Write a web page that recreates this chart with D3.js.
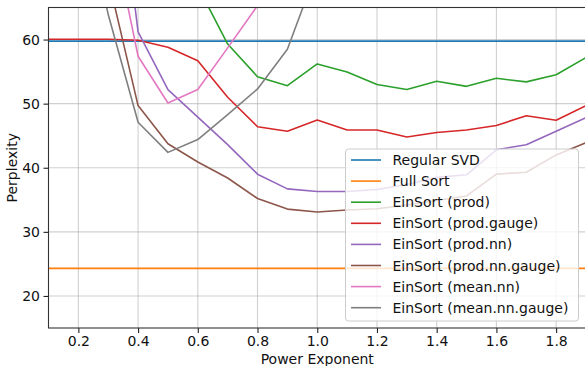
<!DOCTYPE html>
<html>
<head>
<meta charset="utf-8">
<script src="https://cdn.jsdelivr.net/npm/d3@7"></script>
<style>
  body { margin: 0; background: #fff; }
  text { font-family: "DejaVu Sans", sans-serif; }
</style>
</head>
<body>
<svg id="chart"></svg>
<script>
// power exponent values (x axis)
const exponents = [0.1, 0.2, 0.3, 0.4, 0.5, 0.6, 0.7, 0.8, 0.9, 1.0,
  1.1, 1.2, 1.3, 1.4, 1.5, 1.6, 1.7, 1.8, 1.9];

// constant baselines
const regularSvd = 59.75;
const fullSort = 24.3;

// EinSort variants, null = not measured / way off chart
const prod = [null, null, null, null, null, 68.3, 59.3, 54.2, 52.8, 56.2,
  54.95, 53.0, 52.2, 53.5, 52.7, 53.95, 53.4, 54.5, 57.2];
const prodGauge = [60.05, 60.05, 60.05, 59.9, 58.8, 56.7, 51.0, 46.4, 45.7, 47.45,
  45.9, 45.9, 44.8, 45.5, 45.9, 46.6, 48.1, 47.4, 49.7];
const prodNN = [null, null, 99, 61.2, 52.2, 47.9, 43.6, 39.0, 36.7, 36.3,
  36.3, 36.6, 37.4, 38.5, 38.9, 42.8, 43.6, 45.7, 47.8];
const prodNNGauge = [null, null, 69.5, 49.7, 43.75, 40.9, 38.4, 35.2, 33.55, 33.1,
  33.4, 33.6, 34.2, 34.9, 35.6, 39.0, 39.3, 42.0, 43.9];
const meanNN = [null, null, 80, 57.4, 50.1, 52.2, 58.7, 65.3, 75, null,
  null, null, null, null, null, null, null, null, null];
const meanNNGauge = [null, 85, 63.9, 47.1, 42.4, 44.4, 48.3, 52.3, 58.5, 71,
  null, null, null, null, null, null, null, null, null];

const xTicks = [0.2, 0.4, 0.6, 0.8, 1.0, 1.2, 1.4, 1.6, 1.8];
const yTicks = [20, 30, 40, 50, 60];

const series = [
  {name: 'Regular SVD', color: '#1f77b4', values: exponents.map(() => regularSvd)},
  {name: 'Full Sort', color: '#ff7f0e', values: exponents.map(() => fullSort)},
  {name: 'EinSort (prod)', color: '#2ca02c', values: prod},
  {name: 'EinSort (prod.gauge)', color: '#d62728', values: prodGauge},
  {name: 'EinSort (prod.nn)', color: '#9467bd', values: prodNN},
  {name: 'EinSort (prod.nn.gauge)', color: '#8c564b', values: prodNNGauge},
  {name: 'EinSort (mean.nn)', color: '#e377c2', values: meanNN},
  {name: 'EinSort (mean.nn.gauge)', color: '#7f7f7f', values: meanNNGauge}
];

const W = 585, H = 366;
const margin = {top: 7.5, left: 48.5, right: -1, bottom: 38};
const width = W - margin.left - margin.right;
const height = H - margin.top - margin.bottom;

const svg = d3.select('#chart').attr('width', W).attr('height', H);
const g = svg.append('g').attr('transform', `translate(${margin.left},${margin.top})`);

const xscale = d3.scaleLinear().domain([0.1, 1.9]).range([0, width]);
const yscale = d3.scaleLinear().domain([15, 65]).range([height, 0]);

// grid
g.append('g').selectAll('line').data(xTicks).join('line')
  .attr('x1', (d) => xscale(d)).attr('x2', (d) => xscale(d))
  .attr('y1', 0).attr('y2', height)
  .attr('stroke', '#b0b0b0').attr('stroke-opacity', 0.6).attr('stroke-width', 1.1);
g.append('g').selectAll('line').data(yTicks).join('line')
  .attr('y1', (d) => yscale(d)).attr('y2', (d) => yscale(d))
  .attr('x1', 0).attr('x2', width)
  .attr('stroke', '#b0b0b0').attr('stroke-opacity', 0.6).attr('stroke-width', 1.1);

// lines, clipped to the axes box
svg.append('clipPath').attr('id', 'clip').append('rect')
  .attr('width', width).attr('height', height);

const line = d3.line()
  .defined((d) => d[1] != null)
  .x((d) => xscale(d[0]))
  .y((d) => yscale(d[1]));

g.append('g').attr('clip-path', 'url(#clip)')
  .selectAll('path').data(series).join('path')
  .attr('d', (s) => line(exponents.map((x, i) => [x, s.values[i]])))
  .attr('fill', 'none')
  .attr('stroke', (s) => s.color)
  .attr('stroke-width', 1.6)
  .attr('stroke-linejoin', 'round');

// axes
const xaxis = d3.axisBottom(xscale).tickValues(xTicks).tickFormat(d3.format('.1f'))
  .tickSize(5).tickPadding(3.5);
const yaxis = d3.axisLeft(yscale).tickValues(yTicks).tickSize(5).tickPadding(3.5);

const gx = g.append('g').attr('transform', `translate(0,${height})`).call(xaxis);
const gy = g.append('g').call(yaxis);
[gx, gy].forEach((ax) => {
  ax.select('.domain').remove();
  ax.selectAll('line').attr('stroke', '#222').attr('stroke-width', 1.1);
  ax.selectAll('text').attr('font-size', 14).attr('fill', '#111')
    .attr('font-family', '"DejaVu Sans", sans-serif');
});

// spines
g.append('rect').attr('width', width).attr('height', height)
  .attr('fill', 'none').attr('stroke', '#333').attr('stroke-width', 1.1);

// axis labels
svg.append('text').attr('x', margin.left + width / 2).attr('y', 363.5)
  .attr('text-anchor', 'middle').attr('font-size', 14).attr('fill', '#111')
  .text('Power Exponent');
svg.append('text')
  .attr('transform', `translate(17,${margin.top + height / 2}) rotate(-90)`)
  .attr('text-anchor', 'middle').attr('font-size', 14).attr('fill', '#111')
  .text('Perplexity');

// legend
const legend = svg.append('g').attr('transform', 'translate(345.5,149)');
legend.append('rect').attr('width', 233).attr('height', 172).attr('rx', 3)
  .attr('fill', '#fff').attr('fill-opacity', 0.8)
  .attr('stroke', '#cccccc').attr('stroke-width', 1);
const rows = legend.selectAll('g.row').data(series).join('g').attr('class', 'row')
  .attr('transform', (d, i) => `translate(0,${11 + i * 21.1})`);
rows.append('line').attr('x1', 5.5).attr('x2', 35.5)
  .attr('stroke', (d) => d.color).attr('stroke-width', 1.6);
rows.append('text').attr('x', 47).attr('y', 5).attr('font-size', 14).attr('fill', '#111')
  .text((d) => d.name);
</script>
</body>
</html>
